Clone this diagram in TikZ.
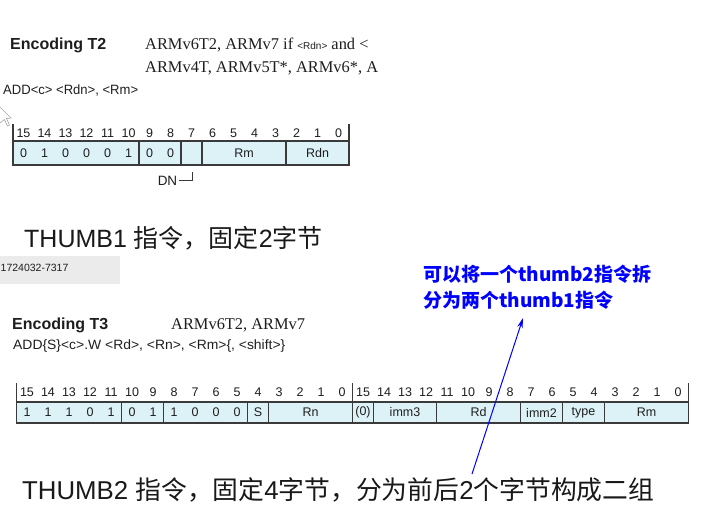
\documentclass[tikz,border=0pt]{standalone}
\usepackage{fontspec}
\setmainfont{Liberation Sans}
\newfontfamily\serif{Liberation Serif}
\newfontfamily\cjk{Noto Sans CJK SC}
\usetikzlibrary{arrows.meta}
\definecolor{cellfill}{HTML}{DDF2F7}
\definecolor{linec}{HTML}{3A3A3A}
\definecolor{txt}{HTML}{1E1E1E}
\definecolor{annot}{HTML}{0000FF}
\tikzset{
  hdr/.style={inner sep=0pt, text=txt, font=\fontsize{12.5}{12.5}\selectfont},
  cellt/.style={inner sep=0pt, text=txt, font=\fontsize{12.5}{12.5}\selectfont},
  tline/.style={draw=linec, line width=1.3pt},
  enc/.style={inner sep=0pt, anchor=west, text=txt, font=\bfseries\fontsize{16}{16}\selectfont},
  arch/.style={inner sep=0pt, anchor=west, text=txt, font=\serif\fontsize{16.4}{16.4}\selectfont},
  code/.style={inner sep=0pt, anchor=west, text=txt, font=\fontsize{13.5}{13.5}\selectfont},
  big/.style={inner sep=0pt, anchor=base west, text=black!90},
  blue/.style={inner sep=0pt, anchor=west, text=annot, font=\cjk\bfseries\fontsize{19}{19}\selectfont}
}
\begin{document}
\begin{tikzpicture}[x=1pt,y=-1pt]
\useasboundingbox (0,0) rectangle (706,512);
\fill[white] (0,0) rectangle (706,512);

% cursor
\draw[gray!70, fill=white, line width=0.6pt] (0,107) -- (11,118) -- (6.5,118.5) -- (9.5,125) -- (7.5,126) -- (4.5,119.5) -- (0,123);

% ---------------- Encoding T2 ----------------
\begin{scope}
\clip (0,0) rectangle (381,100);
\node[enc] (encT2) at (10,45) {Encoding T2};
\node[arch] (archA) at (145,45) {ARMv6T2, ARMv7 if {\fontspec{Liberation Sans}\fontsize{10}{10}\selectfont <Rdn>} and <};
\node[arch] (archB) at (145,68) {ARMv4T, ARMv5T*, ARMv6*, A};
\end{scope}
\node[code] (codeT2) at (3,90) {\scalebox{0.967}[1]{ADD<c> <Rdn>, <Rm>}};

% table T2
\fill[cellfill] (13,141) rectangle (349,165);
\draw[tline] (13,124) -- (13,165) -- (349,165) -- (349,124);
\draw[tline] (13,141) -- (349,141);
\foreach \x in {139,181,202,286} \draw[tline] (\x,141) -- (\x,165);
\foreach \b in {0,...,15} \node[hdr] (ha\b) at ({13+21*(15-\b)+10.5},133.5) {\b};
\foreach \v [count=\i from 0] in {0,1,0,0,0,1,0,0}
  \node[cellt] (ca\i) at ({13+21*\i+10.5},153) {\v};
\node[cellt] (rmA) at (244,153) {Rm};
\node[cellt] (rdnA) at (317.5,153) {Rdn};
\node[inner sep=0pt, text=txt, font=\fontsize{13.5}{13.5}\selectfont] (dn) at (167.5,180.5) {DN};
\coordinate (dnc) at (192,172);
\draw[linec, line width=1pt] ([xshift=2pt]dn.east) -| (dnc);

\node[big, font=\fontsize{25}{25}\selectfont] (t1) at (24,247) {THUMB1 {\cjk 指令，固定}2{\cjk 字节}};

% gray box
\fill[black!8] (0,256) rectangle (120,283.5);
\node[inner sep=0pt, anchor=west, text=txt, font=\fontsize{10.5}{10.5}\selectfont] (ph) at (0.5,267.5) {1724032-7317};

% blue annotation
\node[blue] (n1) at (423,274) {可以将一个thumb2指令拆};
\node[blue] (n2) at (423,300) {分为两个thumb1指令};

% ---------------- Encoding T3 ----------------
\node[enc] (encT3) at (12,325) {Encoding T3};
\node[arch] (archC) at (171,325) {ARMv6T2, ARMv7};
\node[code] (codeT3) at (13,346) {\scalebox{1.03}[1]{ADD\{S\}<c>.W <Rd>, <Rn>, <Rm>\{, <shift>\}}};

% table T3
\fill[cellfill] (16.5,402) rectangle (688.5,423);
\draw[tline] (16.5,383) -- (16.5,423) -- (688.5,423) -- (688.5,383);
\draw[tline] (352.5,383) -- (352.5,423);
\draw[tline] (16.5,402) -- (688.5,402);
\foreach \x in {121.5,163.5,247.5,268.5,373.5,436.5,520.5,562.5,604.5} \draw[tline] (\x,402) -- (\x,423);
\foreach \b in {0,...,15} {
  \node[hdr] (hb\b) at ({16.5+21*(15-\b)+10.5},392) {\b};
  \node[hdr] (hc\b) at ({352.5+21*(15-\b)+10.5},392) {\b};
}
\foreach \v [count=\i from 0] in {1,1,1,0,1,0,1,1,0,0,0,S}
  \node[cellt] (cb\i) at ({16.5+21*\i+10.5},412.5) {\v};
\node[cellt] (rnB) at (310.5,412.5) {Rn};
\node[cellt] (z0) at (363,412.5) {(0)};
\node[cellt] (imm3) at (405,412.5) {imm3};
\node[cellt] (rdB) at (478.5,412.5) {Rd};
\node[cellt] (imm2) at (541.5,412.5) {imm2};
\node[cellt] (typeB) at (583.5,412.5) {type};
\node[cellt] (rmB) at (646.5,412.5) {Rm};

\node[big, font=\fontsize{25.8}{25.8}\selectfont] (t2) at (22,499) {THUMB2 {\cjk 指令，固定}4{\cjk 字节，分为前后}2{\cjk 个字节构成二组}};

% arrow
\coordinate (arrS) at (472,474);
\coordinate (arrE) at (523,318);
\draw[annot, line width=1pt, -{Stealth[length=10pt,width=5.5pt]}] (arrS) -- (arrE);
\end{tikzpicture}
\end{document}
